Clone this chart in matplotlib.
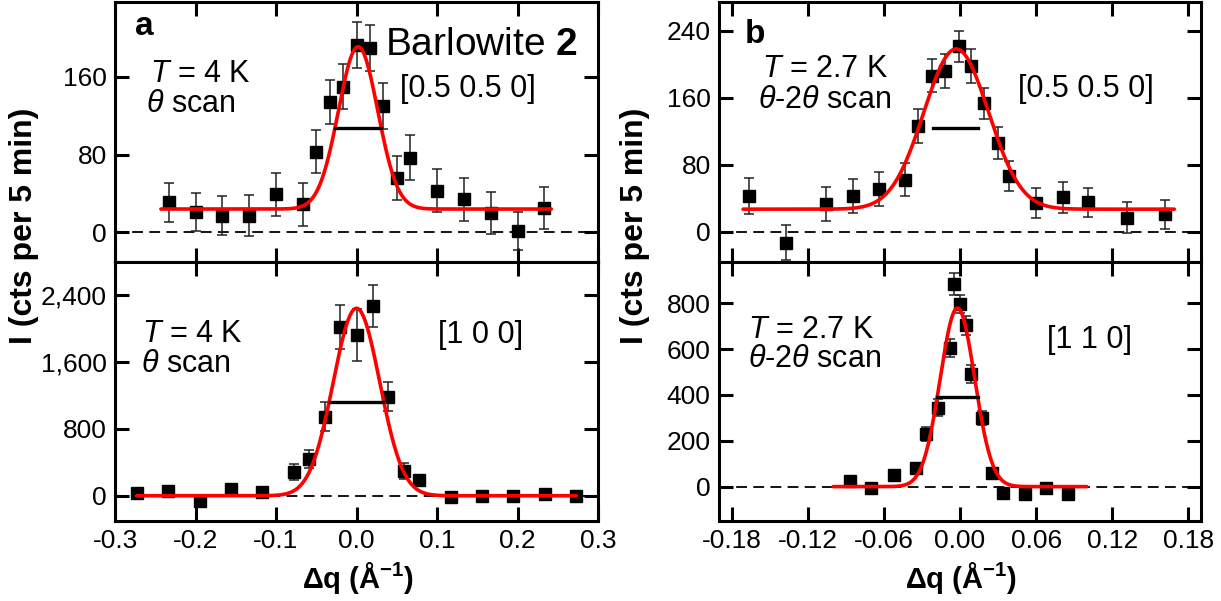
import numpy as np
import matplotlib
matplotlib.use("Agg")
import matplotlib.pyplot as plt

plt.rcParams['font.family'] = ['Liberation Sans', 'DejaVu Sans']
plt.rcParams['mathtext.fontset'] = 'custom'
plt.rcParams['mathtext.rm'] = 'Liberation Sans'
plt.rcParams['mathtext.it'] = 'Liberation Sans:italic'
plt.rcParams['mathtext.bf'] = 'Liberation Sans:bold'
plt.rcParams['axes.unicode_minus'] = False

# Panel a, top: [0.5 0.5 0], theta scan, T = 4 K
q_a1 = [-0.233, -0.200, -0.167, -0.133, -0.100, -0.067, -0.050, -0.033, -0.017, 0.000,
        0.017, 0.033, 0.050, 0.067, 0.100, 0.133, 0.167, 0.200, 0.233]
I_a1 = [31, 21, 17, 17, 39, 29, 83, 134, 150, 193, 190, 130, 56, 77, 43, 34, 20, 1, 25]
e_a1 = [20, 20, 20, 21, 22, 22, 22, 23, 23, 23.5, 23.5, 23.5, 23, 23, 22, 22, 21.5, 19.5, 22]

# Panel a, bottom: [1 0 0], theta scan, T = 4 K
q_a2 = [-0.273, -0.234, -0.195, -0.156, -0.117, -0.078, -0.059, -0.039, -0.020, 0.000,
        0.020, 0.039, 0.059, 0.078, 0.117, 0.156, 0.195, 0.234, 0.273]
I_a2 = [36, 56, -60, 77, 48, 287, 439, 945, 2014, 1922, 2268, 1184, 295, 188, -19, -4, -4, 17, 0]
e_a2 = [30, 30, 30, 30, 30, 95, 110, 175, 265, 310, 250, 175, 100, 40, 30, 30, 30, 30, 30]

# Panel b, top: [0.5 0.5 0], theta-2theta scan, T = 2.7 K
q_b1 = [-0.166, -0.137, -0.106, -0.084, -0.064, -0.043, -0.033, -0.022, -0.012, -0.001,
        0.009, 0.019, 0.030, 0.039, 0.060, 0.081, 0.101, 0.132, 0.162]
I_b1 = [43, -13, 33, 43, 51, 62, 126, 186, 192, 221, 198, 153, 106, 67, 34, 41, 35, 17, 21]
e_b1 = [21.5, 21, 20, 20, 20, 19.5, 20.5, 19.5, 20.5, 19, 20, 19, 19, 18, 18, 18, 17.5, 18, 17.5]

# Panel b, bottom: [1 1 0], theta-2theta scan, T = 2.7 K
q_b2 = [-0.087, -0.070, -0.052, -0.035, -0.027, -0.017, -0.008, -0.0045, 0.000, 0.0045,
        0.0085, 0.017, 0.0255, 0.034, 0.051, 0.068, 0.085]
I_b2 = [25, -7, 51, 80, 230, 345, 604, 884, 797, 703, 491, 299, 58, -26, -32, -7, -33]
e_b2 = [20, 20, 20, 20, 30, 36, 40, 46, 40, 40, 40, 30, 20, 20, 20, 20, 20]

# Gaussian fits: background, amplitude, centre, FWHM, q range
fit_a1 = (24, 167, 0.002, 0.0575, -0.243, 0.242)
fit_a2 = (0, 2241, 0.000, 0.068, -0.273, 0.273)
fit_b1 = (27, 191, -0.003, 0.060, -0.171, 0.169)
fit_b2 = (0, 779, -0.002, 0.032, -0.100, 0.100)

# resolution bars: q start, q end, height
res_a1 = (-0.027, 0.0305, 107.5)
res_a2 = (-0.033, 0.0323, 1124)
res_b1 = (-0.021, 0.0144, 123.5)
res_b2 = (-0.0178, 0.0145, 390)

xt_a = [-0.3, -0.2, -0.1, 0.0, 0.1, 0.2, 0.3]
xl_a = ['-0.3', '-0.2', '-0.1', '0.0', '0.1', '0.2', '0.3']
xt_b = [-0.18, -0.12, -0.06, 0.0, 0.06, 0.12, 0.18]
xl_b = ['-0.18', '-0.12', '-0.06', '0.00', '0.06', '0.12', '0.18']
yt_a1 = [0, 80, 160]
yt_a2 = [0, 800, 1600, 2400]
yl_a2 = ['0', '800', '1,600', '2,400']
yt_b1 = [0, 80, 160, 240]
yt_b2 = [0, 200, 400, 600, 800]

W, H = 1221, 601
fig = plt.figure(figsize=(W / 100, H / 100), dpi=100)


def px_rect(x0, y0, x1, y1):
    return [x0 / W, 1 - y1 / H, (x1 - x0) / W, (y1 - y0) / H]


def ftext(x, y, s, **kw):
    kw.setdefault('fontsize', 22)
    fig.text(x / W, 1 - y / H, s, va='baseline', ha='left', **kw)


def panel(ax, q, I, err, fit, res, xlim, ylim, xt, xl, yt, yl=None, bottom=False):
    ax.axhline(0, color='black', lw=1.3, ls=(0, (6, 3.5)), zorder=1)
    ax.errorbar(q, I, yerr=err, fmt='none', ecolor='#222222', elinewidth=1.1,
                capsize=3.8, capthick=1.1, zorder=2)
    ax.plot(q, I, 's', color='black', ms=9, zorder=3)
    bg, amp, cen, fwhm, lo, hi = fit
    sig = fwhm / (2 * np.sqrt(2 * np.log(2)))
    qq = np.linspace(lo, hi, 500)
    ax.plot(qq, bg + amp * np.exp(-(qq - cen) ** 2 / (2 * sig ** 2)),
            color='red', lw=2.6, zorder=4, solid_capstyle='round')
    ax.plot(res[:2], [res[2], res[2]], color='black', lw=2.4, zorder=5)
    ax.set_xlim(*xlim)
    ax.set_ylim(*ylim)
    ax.set_xticks(xt)
    ax.set_xticklabels(xl)
    ax.set_yticks(yt)
    if yl is not None:
        ax.set_yticklabels(yl)
    for s in ax.spines.values():
        s.set_linewidth(2.2)
    ax.tick_params(direction='in', length=10, width=2.2, top=True, right=True,
                   labelsize=19, pad=6, labelbottom=bottom)


ax_a1 = fig.add_axes(px_rect(115, 2, 598, 262))
ax_a2 = fig.add_axes(px_rect(115, 262, 598, 521))
ax_b1 = fig.add_axes(px_rect(719, 2, 1201, 262))
ax_b2 = fig.add_axes(px_rect(719, 262, 1201, 521))

panel(ax_a1, q_a1, I_a1, e_a1, fit_a1, res_a1, (-0.3, 0.3), (-30.5, 237), xt_a, xl_a, yt_a1)
panel(ax_a2, q_a2, I_a2, e_a2, fit_a2, res_a2, (-0.3, 0.3), (-302, 2794), xt_a, xl_a,
      yt_a2, yl_a2, bottom=True)
panel(ax_b1, q_b1, I_b1, e_b1, fit_b1, res_b1, (-0.19, 0.19), (-36, 274), xt_b, xl_b, yt_b1)
panel(ax_b2, q_b2, I_b2, e_b2, fit_b2, res_b2, (-0.19, 0.19), (-150, 980), xt_b, xl_b,
      yt_b2, bottom=True)

# panel annotations
ftext(135, 35, 'a', fontsize=24, fontweight='bold')
ftext(150, 82, r'$T$ = 4 K')
ftext(146, 112, r'$\theta$ scan')
ftext(385, 55, r'Barlowite $\mathbf{2}$', fontsize=28)
ftext(400, 97, '[0.5 0.5 0]')

ftext(142, 342, r'$T$ = 4 K')
ftext(141, 372, r'$\theta$ scan')
ftext(438, 343, '[1 0 0]')

ftext(745, 43, 'b', fontsize=24, fontweight='bold')
ftext(762, 77, r'$T$ = 2.7 K')
ftext(758, 108, r'$\theta$-$\mathit{2\theta}$ scan')
ftext(1018, 97, '[0.5 0.5 0]')

ftext(748, 338, r'$T$ = 2.7 K')
ftext(748, 367, r'$\theta$-$\mathit{2\theta}$ scan')
ftext(1047, 348, '[1 1 0]')

# axis labels
for xc in (24, 635):
    fig.text(xc / W, 1 - 226 / H, 'I (cts per 5 min)', rotation=90, fontsize=23,
             fontweight='bold', ha='center', va='center')
for xc in (358, 961):
    fig.text(xc / W, 1 - 578 / H, r'$\mathbf{\Delta q}$ (Å$^{\mathbf{-1}}$)', fontsize=21,
             fontweight='bold', ha='center', va='center')

fig.savefig('out.png', dpi=100)
